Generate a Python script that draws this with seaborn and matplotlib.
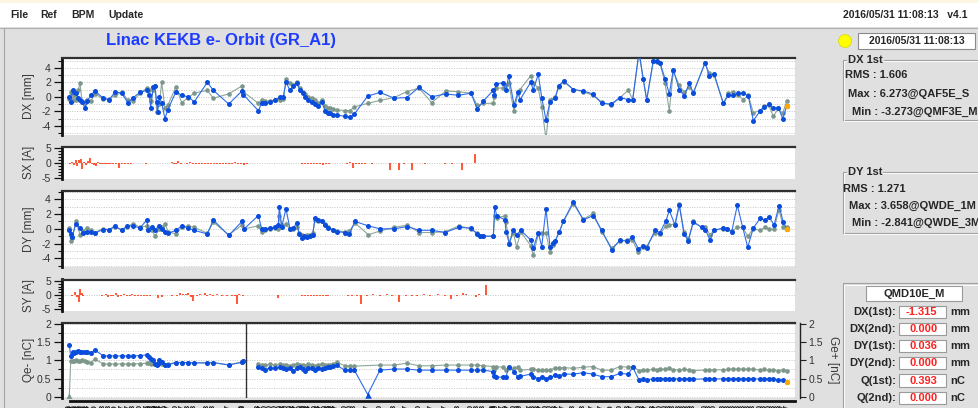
import numpy as np
import pandas as pd
import matplotlib
matplotlib.use("Agg")
import matplotlib.pyplot as plt
import seaborn as sns
from matplotlib.patches import Rectangle, Circle
from matplotlib.lines import Line2D
from matplotlib.ticker import FixedLocator, MultipleLocator, FuncFormatter

# ---------------- BPM readings (position along the linac, arbitrary units) ----------------
dx_s = [69.3, 70.7, 72.7, 74.0, 76.0, 78.3, 80.0, 82.0, 85.0, 87.3,
        90.7, 95.0, 103.3, 109.3, 115.0, 121.7, 127.7, 133.3, 140.0, 146.7,
        149.3, 150.7, 153.3, 155.0, 156.7, 157.7, 159.3, 161.7, 165.0, 167.7,
        176.0, 181.7, 188.3, 194.3, 207.3, 213.3, 228.7, 242.0, 243.3, 258.3,
        261.7, 265.0, 270.0, 275.0, 280.0, 283.3, 286.0, 290.0, 293.3, 296.7,
        300.0, 303.0, 305.0, 308.3, 311.7, 315.0, 318.3, 321.7, 325.0, 328.3,
        330.0, 333.3, 336.7, 345.0, 350.0, 354.3, 367.7, 380.0, 394.3, 406.7,
        419.0, 431.7, 445.7, 458.3, 471.0, 477.3, 483.3, 493.3, 494.3, 496.0,
        502.7, 506.0, 508.7, 514.0, 518.0, 520.0, 530.7, 533.3, 538.3, 541.7,
        546.0, 550.0, 555.3, 558.7, 563.7, 573.3, 583.3, 592.7, 601.7, 611.0,
        620.0, 628.3, 632.7, 639.0, 643.3, 646.7, 653.3, 656.7, 660.0, 665.0,
        669.3, 673.3, 679.3, 684.3, 689.3, 693.3, 705.0, 709.3, 714.0, 723.3,
        728.3, 733.3, 738.3, 743.3, 748.3, 753.3, 760.0, 764.3, 769.0, 773.3,
        778.3, 782.7, 786.7]

dx_now = [0.0, -0.7, 1.0, 0.6, 0.5, -0.1, -0.5, -0.7, -1.5, -0.6,
          0.2, 0.8, -0.2, -0.4, 0.7, 0.5, -0.8, -0.1, 0.6, 0.9,
          0.2, -1.5, 1.4, 1.5, -0.7, -2.1, 0.0, -0.9, -3.0, -1.8,
          0.7, 0.2, 0.0, -0.7, 2.0, 0.9, -1.0, 0.8, 0.3, -1.9,
          -0.9, -0.9, -0.7, -0.5, 0.0, 0.0, 2.0, 0.9, 1.5, 1.9,
          0.9, 0.5, 0.0, -0.4, -0.7, -1.0, -1.3, -0.7, -1.9, -2.2,
          -2.3, -2.5, -2.5, -2.7, -2.8, -2.4, 0.1, 0.6, -0.2, -0.1,
          1.3, 0.0, 0.4, 0.2, 0.5, -1.7, -0.6, 0.9, 0.3, 1.8,
          1.9, 0.9, 2.9, -1.1, 0.6, -0.4, 2.0, 1.0, 3.1, -0.1,
          -3.2, -0.7, -0.1, 1.5, 2.2, 1.0, 0.8, 0.4, -0.9, -1.0,
          -0.1, -0.4, -0.4, 6.273, 2.4, -0.4, 5.0, 4.9, 4.65, 2.5,
          0.4, 3.7, 1.0, 0.1, 1.9, 0.5, 4.7, 2.9, 3.2, -0.9,
          0.2, 0.2, 0.5, 0.5, 0.1, -3.273, -2.0, -1.4, -1.0, -1.6,
          -1.5, -3.0, -1.315]

dx_ref = [-0.3, 0.7, -0.4, 0.2, -0.4, 0.9, 1.9, -0.6, -0.9, -0.4,
          -0.6, 0.4, -0.3, -0.3, 0.2, 0.6, -0.4, -0.6, 0.5, 1.2,
          1.0, -0.6, 1.0, 1.5, -2.1, -0.9, -1.0, 2.0, -1.6, -1.2,
          1.4, -0.8, -0.1, 0.5, 0.9, -0.2, 0.4, 1.5, 0.7, -0.9,
          -0.5, -0.6, -0.6, -0.4, -0.4, -0.3, 2.4, 1.9, 1.6, 2.0,
          1.2, 0.6, 0.4, 0.0, -0.2, -0.5, -0.8, -0.5, -1.3, -1.6,
          -1.6, -1.7, -1.8, -1.9, -1.9, -1.4, -0.9, -0.5, -0.1, 0.7,
          1.2, -0.8, 0.8, 0.7, 0.5, -1.2, -0.9, -0.9, 0.0, 1.2,
          1.2, 1.6, 1.9, -2.0, 0.5, 1.0, 2.9, 1.9, 1.2, -1.4,
          -5.8, -0.4, 0.0, 1.4, 2.1, 1.0, 0.7, 0.2, -0.7, -1.2,
          -0.1, 0.9, -0.4, 6.0, 2.4, -0.5, 4.9, 4.8, 4.65, 1.9,
          -1.9, 3.5, 1.6, 0.6, 1.4, 0.6, 4.6, 3.3, 3.0, -0.9,
          0.5, 0.7, 0.2, -0.4, 0.2, -2.2, -1.9, -1.3, -1.2, -2.7,
          -1.6, -2.3, -0.6]

q_now = [1.42, 1.12, 1.24, 1.20, 1.22, 1.26, 1.23, 1.22, 1.24, 1.22,
         1.20, 1.28, 1.12, 1.12, 1.12, 1.12, 1.12, 1.12, 1.13, 1.15,
         1.10, 1.05, 1.00, 0.90, 0.86, 0.90, 1.00, 0.96, 0.88, 0.87,
         0.94, 0.94, 0.94, 0.93, 0.93, 0.94, 0.87, 0.95, 0.98, 0.83,
         0.78, 0.73, 0.80, 0.78, 0.82, 0.78, 0.76, 0.80, 0.72, 0.78,
         0.82, 0.76, 0.72, 0.80, 0.78, 0.74, 0.80, 0.76, 0.79, 0.81,
         0.83, 0.85, 0.86, 0.73, 0.73, 0.73, 0.06, 0.73, 0.76, 0.76,
         0.73, 0.73, 0.73, 0.73, 0.73, 0.73, 0.73, 0.69, 0.57, 0.55,
         0.53, 0.53, 0.83, 0.69, 0.53, 0.56, 0.62, 0.55, 0.50, 0.53,
         0.50, 0.53, 0.59, 0.57, 0.62, 0.62, 0.66, 0.62, 0.55, 0.55,
         0.64, 0.62, 0.81, 0.46, 0.48, 0.46, 0.49, 0.50, 0.48, 0.50,
         0.49, 0.50, 0.48, 0.49, 0.50, 0.48, 0.49, 0.48, 0.49, 0.49,
         0.50, 0.49, 0.50, 0.48, 0.49, 0.50, 0.48, 0.49, 0.50, 0.48,
         0.47, 0.46, 0.393]

q_ref = [0.02, 0.97, 0.99, 0.98, 1.00, 0.99, 0.98, 1.00, 0.98, 0.96,
         0.94, 1.03, 0.90, 0.90, 0.90, 0.90, 0.90, 0.90, 0.91, 0.92,
         0.92, 0.90, 0.92, 0.90, 0.89, 0.90, 0.93, 0.90, 0.88, 0.90,
         0.94, 0.94, 0.93, 0.93, 0.93, 0.93, 0.88, 0.95, 0.97, 0.90,
         0.88, 0.86, 0.89, 0.87, 0.90, 0.86, 0.88, 0.85, 0.86, 0.90,
         0.88, 0.86, 0.85, 0.89, 0.87, 0.85, 0.88, 0.90, 0.86, 0.88,
         0.88, 0.90, 0.95, 0.85, 0.84, 0.84, np.nan, 0.87, 0.87, 0.92,
         0.85, 0.85, 0.87, 0.87, 0.87, 0.87, 0.85, 0.83, 0.73, 0.83,
         0.81, 0.73, 0.78, 0.78, 0.81, 0.73, 0.75, 0.75, 0.73, 0.73,
         0.73, 0.73, 0.80, 0.78, 0.80, 0.78, 0.81, 0.83, 0.73, 0.73,
         0.83, 0.81, 0.83, 0.72, 0.73, 0.73, 0.75, 0.74, 0.76, 0.75,
         0.78, 0.74, 0.74, 0.75, 0.74, 0.72, 0.73, 0.73, 0.74, 0.74,
         0.75, 0.76, 0.76, 0.75, 0.76, 0.75, 0.74, 0.75, 0.73, 0.74,
         0.72, 0.73, 0.72]

dy_s = [69.3, 70.7, 72.0, 76.0, 80.0, 82.7, 86.7, 90.7, 95.0, 102.7,
        109.3, 115.0, 121.7, 127.3, 133.3, 140.0, 146.7, 148.3, 151.7, 155.0,
        159.3, 162.3, 165.0, 168.3, 176.0, 181.7, 188.3, 194.3, 207.3, 213.3,
        228.7, 242.0, 244.3, 258.3, 261.7, 265.0, 270.0, 275.0, 278.3, 279.3,
        281.7, 286.0, 290.0, 293.3, 296.7, 299.3, 301.7, 304.0, 307.3, 310.0,
        312.7, 315.0, 318.3, 321.7, 325.0, 328.3, 333.3, 337.3, 345.0, 349.3,
        355.0, 368.3, 380.0, 394.3, 407.3, 419.3, 431.7, 445.0, 459.0, 470.7,
        477.3, 480.0, 483.3, 493.3, 494.7, 496.7, 505.0, 506.0, 509.3, 513.3,
        516.7, 520.7, 530.7, 533.3, 538.3, 541.7, 546.0, 550.0, 553.3, 555.0,
        559.3, 563.3, 573.3, 583.3, 593.3, 601.7, 611.7, 620.0, 626.7, 632.3,
        638.3, 643.3, 646.7, 655.0, 660.0, 666.0, 669.3, 675.0, 679.3, 684.0,
        688.3, 693.3, 701.7, 705.3, 710.0, 714.0, 722.7, 726.7, 731.7, 737.3,
        742.7, 747.7, 753.3, 760.0, 765.0, 769.3, 774.0, 779.0, 783.3, 786.7]

dy_now = [-0.1, -0.7, -1.1, 0.7, 0.1, -0.5, -0.4, -0.4, -0.6, -0.1,
          -0.1, 0.4, -0.2, 0.4, 0.4, 0.1, 1.2, -0.1, 0.2, -0.1,
          0.4, 0.0, -0.4, -0.6, -0.2, 0.4, 0.1, -0.2, -0.7, 1.2,
          -0.9, 1.0, 0.0, 1.8, 0.0, 0.0, 0.1, 0.2, 0.5, 3.0,
          0.3, 2.7, 0.0, 0.1, 0.8, -0.7, -1.2, -1.0, -1.1, -1.0,
          -0.8, 1.4, 1.2, 1.0, 0.5, 0.1, -0.2, -0.4, -0.5, -0.7,
          1.0, 0.4, 0.0, 0.0, 0.3, -0.2, -0.2, -0.5, 0.2, 0.1,
          -0.7, -1.0, -1.0, -1.0, 3.0, 1.8, 1.2, -0.4, -2.0, -0.1,
          -0.8, -0.2, -1.5, -2.6, -0.5, -2.4, 2.7, -2.4, -1.9, -1.7,
          -0.4, 1.0, 3.658, 1.2, 1.8, -0.2, -2.841, -1.5, -1.7, -1.1,
          -2.7, -2.3, -2.6, -0.2, -0.5, 1.1, 2.5, 0.5, 3.2, -0.7,
          -1.6, 0.9, 0.2, -0.1, -1.5, -0.2, 0.1, -0.05, -0.4, 3.2,
          0.2, -2.5, 0.1, 1.4, 1.2, 1.6, 0.5, 3.1, 0.9, 0.036]

dy_ref = [0.1, -1.7, -1.3, 1.0, -0.8, -0.3, 0.1, -0.2, -0.5, 0.0,
          -0.1, 0.2, -0.1, 0.3, 0.7, 0.2, 0.4, 0.0, -0.1, -1.0,
          0.0, 0.2, 0.6, -0.4, -0.7, 0.2, 0.4, 0.2, -0.6, 0.9,
          -0.8, 0.5, 0.0, 0.4, -0.4, -0.2, 0.0, 0.1, 0.0, 1.7,
          0.5, 0.6, 0.0, 0.0, 0.3, -0.6, -0.8, -1.1, -0.9, -0.8,
          -0.6, 1.2, 1.1, 1.0, 0.6, 0.2, -0.1, -0.3, -0.4, -0.3,
          0.8, -0.8, -0.3, 0.2, 0.5, -0.5, -0.5, -0.4, 0.4, 0.0,
          -0.6, -1.0, -1.0, -1.0, 1.7, 1.5, 1.75, 0.9, -1.9, -0.5,
          -2.5, -0.4, -2.3, -3.6, -0.7, -0.6, -0.6, -3.2, -2.2, -1.7,
          -0.4, 1.0, 3.4, 1.3, 2.1, -0.4, -2.6, -1.7, -1.5, -1.5,
          -3.2, -2.4, -2.4, -0.5, -0.7, 0.4, 0.5, 0.7, 3.4, -0.4,
          -1.4, 1.0, 0.2, 0.2, -0.8, -0.2, 0.0, 0.0, -0.3, 0.2,
          0.2, -1.0, 0.0, -0.2, 0.2, -0.05, -0.05, 2.6, 0.2, 0.2]

# ---------------- steering magnet kicks ----------------
sx_s = [70, 72, 74, 75.5, 77, 79, 80.5, 82, 84, 86,
        88, 90, 92, 94, 96, 98, 100, 102, 104, 106,
        108, 110, 113, 116, 119, 122, 125, 128, 131, 134,
        137, 140, 143, 146, 149, 152, 172, 174, 176, 178,
        181, 184, 187, 190, 193, 196, 199, 202, 205, 208,
        211, 214, 217, 220, 223, 226, 229, 232, 235, 238,
        241, 244, 247, 279, 289, 302, 305, 308, 311, 314,
        317, 320, 323, 326, 329, 347, 350, 353, 356, 359,
        362, 365, 372, 380, 390, 399, 404, 412, 425, 437,
        445, 452, 462, 475, 487]
sx_val = [-0.3, 0.3, -0.8, 1.1, -1.0, 1.0, 1.2, -2.2, 0.3, -0.6,
          0.5, 1.7, -0.4, -0.6, -1.0, 0.2, -0.3, -0.4, -0.3, -0.3,
          -0.4, -0.3, -0.3, -0.3, -1.8, -0.3, -0.3, -0.4, -0.3, -0.2,
          -0.2, -0.2, -0.2, -0.3, -0.2, -0.2, 0.3, -0.3, -0.3, 0.5,
          -0.3, -0.2, -0.5, 0.3, -0.3, -0.3, -0.4, -0.3, -0.3, -0.3,
          -0.3, -0.3, -0.3, -0.3, -0.3, -0.3, -0.3, -0.3, 0.3, -0.3,
          -0.3, -0.8, -0.3, -0.2, -0.2, -0.5, -0.5, -0.4, -0.4, -0.4,
          -0.5, -0.5, -0.8, -0.4, -0.3, -0.3, 0.2, -1.7, -0.4, -0.3,
          -0.4, -0.3, -0.3, -0.2, -2.4, -2.4, -0.3, -2.4, -0.3, -0.2,
          -0.3, -0.3, -2.4, 3.1, -0.2]

sy_s = [71.7, 75, 77.3, 78.7, 80, 81.7, 83.3, 85, 87, 89,
        91, 93, 95, 97, 99, 101.7, 106, 108.3, 110.7, 113.3,
        116, 118.3, 120.7, 124, 126.7, 130, 131.7, 135, 138, 141,
        144, 147, 150, 158.3, 161.7, 171.7, 176.7, 180, 182.7, 186,
        188.3, 190.7, 193.3, 196.7, 200, 205, 206.7, 210, 213.3, 216.7,
        221.7, 226.7, 231.7, 235, 236.7, 239.3, 243.3, 248.3, 278.3, 302,
        305, 308, 311, 314, 317, 320, 323, 326, 328, 348.3,
        351.7, 356.7, 360.7, 366.7, 373.3, 380, 386.7, 391.7, 399, 406,
        411.7, 416.7, 424, 430, 438.3, 445, 451, 456.7, 463.3, 465.7,
        475.7, 479.3, 485.7]
sy_val = [-0.2, 1.1, -0.6, -2.5, 2.1, 0.6, -0.3, 0.15, 0.15, 0.15,
          0.15, 0.15, 0.15, 0.15, 0.15, -0.3, 0.5, -0.6, -0.3, -0.4,
          0.8, -0.5, -0.3, 0.4, -0.3, -0.3, 0.3, -0.2, -0.2, -0.2,
          -0.2, -0.2, -0.2, -1.0, -0.8, -0.3, -0.3, 0.6, 0.4, 0.4,
          0.6, -0.5, -2.2, -0.4, 0.3, 0.8, -0.4, 0.4, -0.3, 0.4,
          -0.3, -0.3, -0.4, -0.3, -3.0, 0.3, -0.3, 0.2, -1.0, -0.3,
          -0.3, -0.3, -0.3, -0.3, -0.3, -0.3, -0.3, -0.2, -0.2, -0.3,
          -0.3, -0.4, -3.0, -0.3, 0.3, -0.3, 0.3, -0.3, -2.5, -0.3,
          -0.3, -0.3, 0.3, -0.3, 0.3, -0.4, -1.3, -0.3, 0.8, 0.4,
          -0.8, 0.3, 3.5]

sector_edge = 245.7
menu_items = ["File", "Ref", "BPM", "Update"]
stamp = "2016/05/31 11:08:13"
version = "v4.1"
title = "Linac KEKB e- Orbit (GR_A1)"
selected_bpm = "QMD10E_M"
dx_stats = ["RMS : 1.606", "Max : 6.273@QAF5E_S", "Min : -3.273@QMF3E_M"]
dy_stats = ["RMS : 1.271", "Max : 3.658@QWDE_1M", "Min : -2.841@QWDE_3M"]

assert len(dx_s) == len(dx_now) == len(dx_ref) == len(q_now) == len(q_ref)
assert len(dy_s) == len(dy_now) == len(dy_ref)
assert len(sx_s) == len(sx_val) and len(sy_s) == len(sy_val)

# ---------------- styling ----------------
sns.set_theme(style="white")
plt.rcParams["font.family"] = ["Liberation Sans", "DejaVu Sans"]
plt.rcParams["axes.unicode_minus"] = False

W, H = 979, 408
BG = "#e0e0e0"
BLUE = "#0a4ddd"
BLUE_LINE = "#2e6cec"
GRAY = "#7d978a"
GRAY_LINE = "#8ea699"
ORANGE = "#ffaa00"
RED = "#ff2a00"
VAL_RED = "#ff2020"

fig = plt.figure(figsize=(W / 100, H / 100), dpi=100)
fig.patch.set_facecolor(BG)


def fx(x):
    return x / W


def fy(y):
    return 1 - y / H


def rect_px(x0, y0, x1, y1, **kw):
    r = Rectangle((fx(x0), fy(y1)), fx(x1) - fx(x0), (y1 - y0) / H,
                  transform=fig.transFigure, **kw)
    fig.add_artist(r)
    return r


def line_px(x0, y0, x1, y1, **kw):
    fig.add_artist(Line2D([fx(x0), fx(x1)], [fy(y0), fy(y1)],
                          transform=fig.transFigure, **kw))


def text_px(x, y, s, **kw):
    kw.setdefault("va", "center")
    return fig.text(fx(x), fy(y), s, **kw)


# window chrome: menu strip and panel frame
rect_px(0, 0, W, 27, facecolor="white", edgecolor="none")
rect_px(0, 0, W, 3, facecolor="#fcf6e2", edgecolor="none")
line_px(0, 27.5, W, 27.5, color="#b0b0b0", lw=0.8)
line_px(4.5, 28, 4.5, H, color="#a4a4a4", lw=0.8)

for name, x in zip(menu_items, [10, 40, 71, 108]):
    text_px(x, 15, name, fontsize=7.5, fontweight="bold", ha="left")
text_px(843, 15, f"{stamp}   {version}", fontsize=7.5, fontweight="bold", ha="left")

text_px(221, 40.5, title, fontsize=12, fontweight="bold", color="#1e3cff", ha="center")

fig.add_artist(Circle((845 / 100, (H - 41) / 100), 0.065, transform=fig.dpi_scale_trans,
                      facecolor="#ffff00", edgecolor="#d6d600", lw=0.5))
rect_px(858, 33, 975, 49, facecolor="white", edgecolor="#8a8a8a", lw=0.8)
text_px(916.5, 41, stamp, fontsize=7.5, fontweight="bold", ha="center")

XL, XR = 62, 795


def make_ax(top, bottom, ylim, major, minor, fmt=None):
    ax = fig.add_axes([fx(XL), fy(bottom), fx(XR) - fx(XL), (bottom - top) / H])
    ax.set_facecolor("white")
    ax.set_xlim(XL, XR)
    ax.set_ylim(*ylim)
    for side in ("right", "bottom"):
        ax.spines[side].set_visible(False)
    ax.spines["top"].set_linewidth(1.6)
    ax.spines["top"].set_color("#303030")
    ax.spines["left"].set_linewidth(2.0)
    ax.spines["left"].set_color("#111111")
    ax.yaxis.set_major_locator(FixedLocator(major))
    ax.yaxis.set_minor_locator(MultipleLocator(minor))
    ax.yaxis.set_major_formatter(FuncFormatter(fmt or (lambda v, _: f"{v:g}")))
    ax.tick_params(axis="x", bottom=False, labelbottom=False)
    ax.tick_params(axis="y", which="major", left=True, length=6, width=0.9,
                   color="#111111", labelsize=7.5, labelcolor="#333333", pad=2)
    ax.tick_params(axis="y", which="minor", left=True, length=3, width=0.8, color="#111111")
    ax.set_xlabel("")
    ax.set_ylabel("")
    return ax


def ylabel(text, top, bottom):
    text_px(29, (top + bottom) / 2, text, rotation=90, ha="center",
            fontsize=8.5, color="#3a3a3a")


def draw_orbit(ax, df, now, ref):
    g = df.dropna(subset=[ref])
    sns.lineplot(data=g, x="s", y=ref, ax=ax, color=GRAY_LINE, linewidth=0.8,
                 sort=True, estimator=None, legend=False, zorder=2)
    sns.scatterplot(data=g, x="s", y=ref, ax=ax, color=GRAY, s=11, linewidth=0,
                    legend=False, zorder=3)
    sns.lineplot(data=df, x="s", y=now, ax=ax, color=BLUE_LINE, linewidth=0.8,
                 sort=True, estimator=None, legend=False, zorder=4)
    sns.scatterplot(data=df, x="s", y=now, ax=ax, color=BLUE, s=13, linewidth=0,
                    legend=False, zorder=5)
    last = df.iloc[[-1]]
    sns.scatterplot(data=last, x="s", y=now, ax=ax, color=ORANGE, s=15, linewidth=0,
                    legend=False, zorder=6)
    ax.set_xlabel("")
    ax.set_ylabel("")


dx_df = pd.DataFrame({"s": dx_s, "now": dx_now, "ref": dx_ref})
dy_df = pd.DataFrame({"s": dy_s, "now": dy_now, "ref": dy_ref})
q_df = pd.DataFrame({"s": dx_s, "now": q_now, "ref": q_ref})

# ---- DX ----
ax_dx = make_ax(58, 134.5, (-5.2, 5.35), [-4, -2, 0, 2, 4], 1)
ax_dx.grid(True, axis="y", which="both", color="#c6c6c6", linestyle=(0, (1, 1.5)), linewidth=0.7)
ax_dx.set_axisbelow(True)
draw_orbit(ax_dx, dx_df, "now", "ref")
ax_dx.set_xlim(XL, XR)
ylabel("DX [mm]", 58, 134.5)

# ---- SX ----
ax_sx = make_ax(147, 178.5, (-5.3, 5.4), [-5, 0, 5], 1)
ax_sx.axhline(0, color="#c6c6c6", linestyle=(0, (1, 1.5)), linewidth=0.7, zorder=1)
ax_sx.vlines(sx_s, 0, sx_val, color=RED, linewidth=1.1, zorder=3)
ylabel("SX [A]", 147, 178.5)

# ---- DY ----
ax_dy = make_ax(191, 267, (-5.18, 5.13), [-4, -2, 0, 2, 4], 1)
ax_dy.grid(True, axis="y", which="both", color="#c6c6c6", linestyle=(0, (1, 1.5)), linewidth=0.7)
ax_dy.set_axisbelow(True)
draw_orbit(ax_dy, dy_df, "now", "ref")
ax_dy.set_xlim(XL, XR)
ylabel("DY [mm]", 191, 267)

# ---- SY ----
ax_sy = make_ax(279.5, 311, (-5.6, 5.5), [-5, 0, 5], 1)
ax_sy.axhline(0, color="#c6c6c6", linestyle=(0, (1, 1.5)), linewidth=0.7, zorder=1)
ax_sy.vlines(sy_s, 0, sy_val, color=RED, linewidth=1.1, zorder=3)
ylabel("SY [A]", 279.5, 311)

# ---- charge ----
ax_q = make_ax(322.5, 398, (-0.036, 2.04), [0, 0.5, 1, 1.5, 2], 0.25)
ax_q.grid(True, axis="y", which="both", color="#c6c6c6", linestyle=(0, (1, 1.5)), linewidth=0.7)
ax_q.set_axisbelow(True)
ax_q.axvline(sector_edge, color="#333333", linewidth=1.0, zorder=2)

for side in (q_df[q_df.s < sector_edge], q_df[q_df.s > sector_edge]):
    for col, lcol, mcol, size, z in (("ref", GRAY_LINE, GRAY, 11, 2), ("now", BLUE_LINE, BLUE, 13, 4)):
        seg = side.dropna(subset=[col])
        sns.lineplot(data=seg, x="s", y=col, ax=ax_q, color=lcol, linewidth=0.8,
                     sort=True, estimator=None, legend=False, zorder=z)
        ok = seg[seg[col] >= 0.2]
        low = seg[seg[col] < 0.2]
        sns.scatterplot(data=ok, x="s", y=col, ax=ax_q, color=mcol, s=size, linewidth=0,
                        legend=False, zorder=z + 1)
        if len(low):
            sns.scatterplot(data=low, x="s", y=col, ax=ax_q, color=mcol, s=22, marker="^",
                            linewidth=0, legend=False, zorder=z + 1)
sns.scatterplot(x=[dx_s[-1]], y=[q_now[-1]], ax=ax_q, color=ORANGE, s=15, linewidth=0,
                legend=False, zorder=7)
ax_q.set_xlabel("")
ax_q.set_ylabel("")
ax_q.set_xlim(XL, XR)
ylabel("Qe- [nC]", 322.5, 398)

# BPM name row under the charge panel
ax_q.spines["bottom"].set_visible(True)
ax_q.spines["bottom"].set_linewidth(2)
ax_q.spines["bottom"].set_color("#111111")
ax_q.spines["bottom"].set_position(("outward", 2))
ax_q.spines["bottom"].set_bounds(70, XR)
ax_q.set_xticks(dx_s)
ax_q.set_xticklabels([f"{s:.1f}" for s in dx_s], rotation=90, fontsize=5.5,
                     fontweight="bold", color="#111111")
ax_q.tick_params(axis="x", bottom=True, labelbottom=True, length=0, pad=2.5)

axr = ax_q.twinx()
axr.set_ylim(ax_q.get_ylim())
for side in ("left", "top", "bottom"):
    axr.spines[side].set_visible(False)
axr.spines["right"].set_visible(True)
axr.spines["right"].set_position(("outward", 3.5))
axr.spines["right"].set_linewidth(1.0)
axr.spines["right"].set_color("#222222")
axr.yaxis.set_major_locator(FixedLocator([0, 0.5, 1, 1.5, 2]))
axr.yaxis.set_major_formatter(FuncFormatter(lambda v, _: f"{v:g}"))
axr.tick_params(axis="y", which="major", right=True, length=4, width=0.8, color="#222222",
                labelsize=7.5, labelcolor="#333333", pad=2)
axr.grid(False)
text_px(833, 360, "Ge+ [nC]", rotation=270, ha="center", fontsize=8.5, color="#3a3a3a")

# ---------------- statistics panels ----------------
def group_box(x0, y0, x1, y1, label=None):
    rect_px(x0, y0, x1, y1, facecolor="none", edgecolor="#a0a0a0", lw=0.8)
    rect_px(x0 + 1, y0 + 1, x1 + 1, y1 + 1, facecolor="none", edgecolor="white", lw=0.6)
    if label:
        text_px(x0 + 5, y0, label, fontsize=8, fontweight="bold", ha="left",
                bbox=dict(facecolor=BG, edgecolor="none", pad=0.6))


group_box(843, 60, 995, 120, "DX 1st")
for (x, y), s in zip([(845, 75.5), (848, 93.5), (852, 111.5)], dx_stats):
    text_px(x, y, s, fontsize=8, fontweight="bold", ha="left")

group_box(843, 172, 995, 233, "DY 1st")
for (x, y), s in zip([(843.5, 188.5), (849, 205.5), (852, 223)], dy_stats):
    text_px(x, y, s, fontsize=8, fontweight="bold", ha="left")

group_box(843, 283.5, 995, 420)
rect_px(866, 286, 962, 300.5, facecolor="white", edgecolor="#9a9a9a", lw=0.8)
text_px(914, 293.5, selected_bpm, fontsize=8, fontweight="bold", ha="center")

row_labels = ["DX(1st):", "DX(2nd):", "DY(1st):", "DY(2nd):", "Q(1st):", "Q(2nd):"]
row_values = [dx_now[-1], 0.0, dy_now[-1], 0.0, q_now[-1], 0.0]
row_units = ["mm", "mm", "mm", "mm", "nC", "nC"]
for i, (lab, val, unit) in enumerate(zip(row_labels, row_values, row_units)):
    y = 311.7 + 17.2 * i
    text_px(896, y, lab, fontsize=8, fontweight="bold", ha="right")
    rect_px(899, y - 6.2, 946, y + 6.2, facecolor="white", edgecolor="#9a9a9a", lw=0.8)
    text_px(937.5, y, f"{val:.3f}", fontsize=8, fontweight="bold", ha="right", color=VAL_RED)
    text_px(950, y, unit, fontsize=8, fontweight="bold", ha="left")

fig.savefig("out.png", dpi=100, facecolor=fig.get_facecolor())
